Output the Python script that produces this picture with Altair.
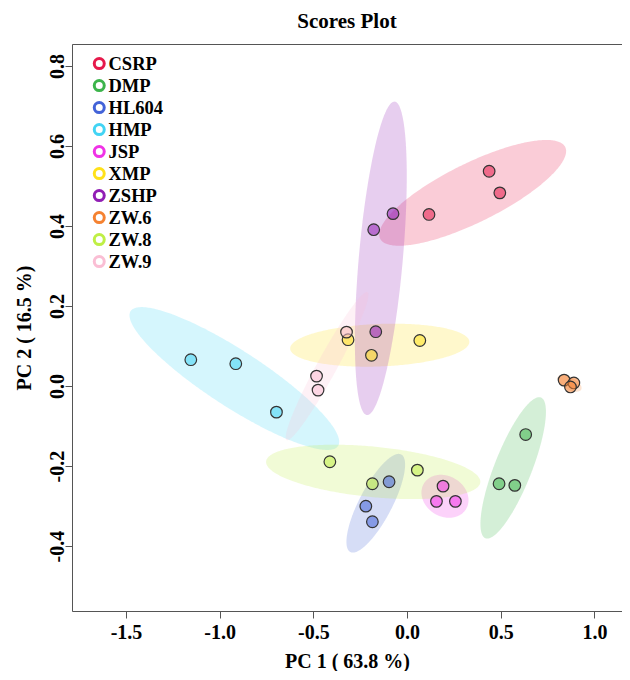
import numpy as np
import pandas as pd
import altair as alt

# ---- data ----
groups = ["CSRP", "DMP", "HL604", "HMP", "JSP", "XMP", "ZSHP", "ZW.6", "ZW.8", "ZW.9"]
colors = ["#e6194b", "#3cb44b", "#4363d8", "#42d4f4", "#f032e6",
          "#ffe119", "#911eb4", "#f58231", "#bfef45", "#fabed4"]

pc1 = {
    "CSRP": [0.438, 0.495, 0.117],
    "DMP": [0.633, 0.491, 0.575],
    "HL604": [-0.096, -0.220, -0.185],
    "HMP": [-1.154, -0.914, -0.697],
    "JSP": [0.192, 0.157, 0.258],
    "XMP": [-0.315, -0.190, 0.068],
    "ZSHP": [-0.075, -0.178, -0.167],
    "ZW.6": [0.838, 0.890, 0.872],
    "ZW.8": [-0.412, -0.185, 0.055],
    "ZW.9": [-0.323, -0.483, -0.475],
}
pc2 = {
    "CSRP": [0.537, 0.483, 0.429],
    "DMP": [-0.121, -0.244, -0.248],
    "HL604": [-0.239, -0.300, -0.339],
    "HMP": [0.066, 0.056, -0.065],
    "JSP": [-0.250, -0.288, -0.288],
    "XMP": [0.116, 0.077, 0.114],
    "ZSHP": [0.431, 0.391, 0.136],
    "ZW.6": [0.015, 0.008, -0.002],
    "ZW.8": [-0.189, -0.244, -0.210],
    "ZW.9": [0.135, 0.025, -0.010],
}

x_ticks = [-1.5, -1.0, -0.5, 0.0, 0.5, 1.0]
y_ticks = [-0.4, -0.2, 0.0, 0.2, 0.4, 0.6, 0.8]
x_domain = [-1.788, 1.147]
y_domain = [-0.562, 0.855]

# ---- tables ----
pts = pd.DataFrame(
    [{"group": g, "x": xv, "y": yv} for g in groups for xv, yv in zip(pc1[g], pc2[g])]
)

# 95% confidence ellipse of each group (from the group's covariance)
r = np.sqrt(-2.0 * np.log(0.05))
ell_rows = []
for g in groups:
    gx = np.array(pc1[g])
    gy = np.array(pc2[g])
    cx, cy = gx.mean(), gy.mean()
    S = np.cov(gx, gy)
    Si = np.linalg.inv(S)
    A, B, C = Si[0, 0], Si[0, 1], Si[1, 1]
    half = r * np.sqrt(S[0, 0])
    for u in np.cos(np.linspace(np.pi, 0, 161)):
        dx = u * half
        disc = max(B * B * dx * dx - C * (A * dx * dx - r * r), 0.0)
        s = np.sqrt(disc)
        ell_rows.append({"group": g, "x": cx + dx,
                         "lo": cy + (-B * dx - s) / C,
                         "hi": cy + (-B * dx + s) / C})
ell = pd.DataFrame(ell_rows)

FONT = "Liberation Serif"
FRAME = "#555555"
lab_expr = "(datum.value < 0 ? '-' : '') + format(abs(datum.value), '.1f')"

xscale = alt.Scale(domain=x_domain, nice=False, zero=False)
yscale = alt.Scale(domain=y_domain, nice=False, zero=False)
fscale = alt.Scale(range=colors)                    # fill of ellipses / points
sscale = alt.Scale(domain=groups, range=colors)     # stroke of legend circles

x_axis = alt.Axis(orient="bottom", values=x_ticks, labelExpr=lab_expr,
                  title="PC 1 ( 63.8 %)", grid=False,
                  domain=True, domainColor=FRAME, domainWidth=1,
                  tickSize=7, tickColor=FRAME,
                  labelFont=FONT, labelFontSize=20, labelFontWeight="bold",
                  labelColor="black", labelPadding=4,
                  titleFont=FONT, titleFontSize=20, titleFontWeight="bold",
                  titleColor="black", titleBaseline="alphabetic", titleY=56)
y_axis = alt.Axis(values=y_ticks, labelExpr=lab_expr,
                  title="PC 2 ( 16.5 %)", grid=False,
                  domain=True, domainColor=FRAME, domainWidth=1,
                  tickSize=7, tickColor=FRAME,
                  labelFont=FONT, labelFontSize=20, labelFontWeight="bold",
                  labelColor="black", labelPadding=2, labelAngle=270,
                  labelAlign="center", labelBaseline="alphabetic",
                  titleFont=FONT, titleFontSize=20, titleFontWeight="bold",
                  titleColor="black", titleBaseline="alphabetic",
                  titleX=-42, titleY=283.5, titleAngle=270, titleAlign="center")
top_axis = alt.Axis(orient="top", labels=False, ticks=False, grid=False,
                    domain=True, domainColor=FRAME, domainWidth=1, title=None)

ellipses = alt.Chart(ell).mark_area(fillOpacity=0.22, strokeWidth=0).encode(
    x=alt.X("x:Q", scale=xscale, axis=x_axis),
    y=alt.Y("lo:Q", scale=yscale, axis=y_axis),
    y2="hi:Q",
    fill=alt.Fill("group:N", scale=fscale, legend=None),
)

points = alt.Chart(pts).mark_circle(size=135, fillOpacity=0.55, opacity=1,
                                   stroke="#333333", strokeWidth=1.2).encode(
    x=alt.X("x:Q", scale=xscale, axis=None),
    y=alt.Y("y:Q", scale=yscale),
    fill=alt.Fill("group:N", scale=fscale, legend=None),
)

legend_layer = alt.Chart(pts).transform_filter("false").mark_point(
    filled=False, shape="circle").encode(
    x=alt.X("x:Q", scale=xscale, axis=top_axis),
    y=alt.Y("y:Q", scale=yscale),
    stroke=alt.Stroke("group:N", scale=sscale, legend=alt.Legend(
        title=None, orient="none", legendX=18, legendY=9, padding=0,
        symbolType="circle", symbolSize=100, symbolStrokeWidth=3,
        symbolOpacity=1, labelFont=FONT, labelFontSize=18.5,
        labelFontWeight="bold", labelColor="black", rowPadding=0,
        clipHeight=21.1, labelOffset=0)),
)

chart = alt.layer(ellipses, points, legend_layer).properties(
    width=550, height=567,
    title=alt.TitleParams("Scores Plot", font=FONT, fontSize=21,
                          fontWeight="bold", color="black", offset=12,
                          anchor="middle"),
    autosize=alt.AutoSizeParams(type="none"),
    padding={"left": 64, "top": 36, "right": 0, "bottom": 60},
).configure_view(stroke="transparent").configure(background="white")

chart.save("out.html", embed_options={"renderer": "svg", "actions": False})
